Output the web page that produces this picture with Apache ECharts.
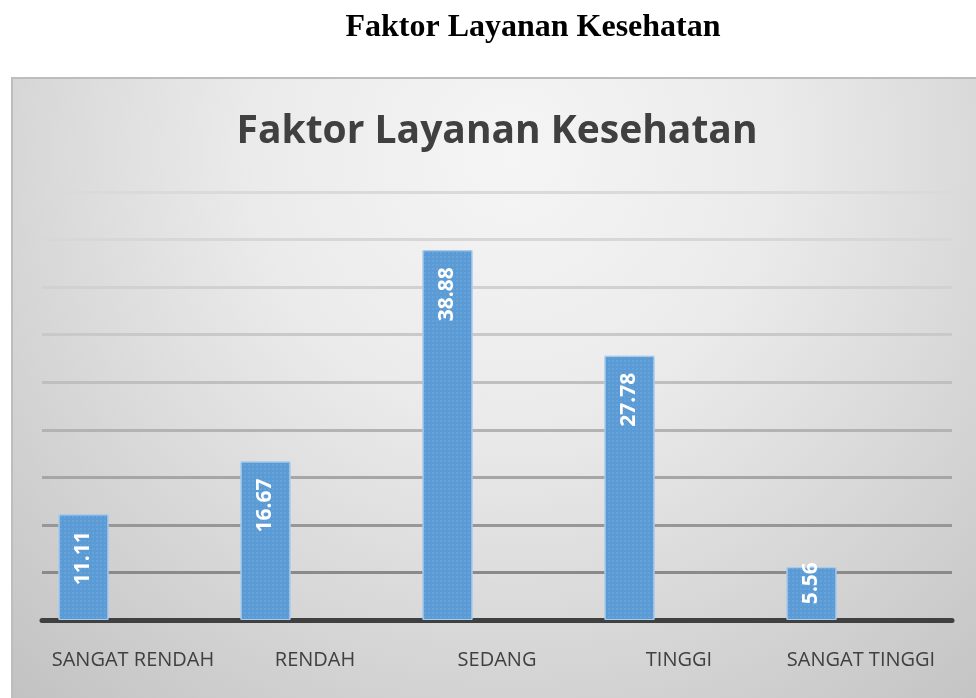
<!DOCTYPE html>
<html>
<head>
<meta charset="utf-8">
<script src="https://cdn.jsdelivr.net/npm/echarts@6/dist/echarts.min.js"></script>
<style>
html,body{margin:0;padding:0;background:#fff;}
#c{width:976px;height:698px;}
</style>
</head>
<body>
<div id="c"></div>
<script>
var categories = ['SANGAT RENDAH', 'RENDAH', 'SEDANG', 'TINGGI', 'SANGAT TINGGI'];
var values = [11.11, 16.67, 38.88, 27.78, 5.56];
var pageTitle = 'Faktor Layanan Kesehatan';
var chartTitle = 'Faktor Layanan Kesehatan';
var yMin = 0, yMax = 45, yStep = 5;

var chart = echarts.init(document.getElementById('c'), null, {renderer: 'canvas'});

var gridColors = ['#404040', '#8a8a8a', '#979797', '#a6a6a6', '#b3b3b3', '#bfbfbf', '#c9c9c9', '#d1d1d1', '#d7d7d7', '#dadada'];

var barData = values.map(function (v) {
  return {
    value: v,
    label: { distance: v < 8 ? -5 : 17 }
  };
});

var option = {
  animation: false,
  graphic: [
    {
      type: 'rect', z: -10, silent: true,
      shape: { x: 12, y: 78, width: 1000, height: 640 },
      style: {
        fill: {
          type: 'radial', x: 0.5, y: 0.12, r: 1.15,
          colorStops: [
            { offset: 0, color: '#f5f5f5' },
            { offset: 0.35, color: '#ebebeb' },
            { offset: 1, color: '#c2c2c2' }
          ]
        },
        stroke: '#bdbdbd', lineWidth: 2
      }
    },
    {
      type: 'text', z: 10, silent: true,
      x: 533, y: 28,
      style: {
        text: pageTitle, textAlign: 'center', textVerticalAlign: 'middle',
        font: 'bold 32px "Liberation Serif", "Times New Roman", serif', fill: '#000'
      }
    },
    {
      type: 'text', z: 10, silent: true,
      x: 497, y: 132,
      style: {
        text: chartTitle, textAlign: 'center', textVerticalAlign: 'middle',
        font: 'bold 39px "Open Sans", sans-serif', fill: '#404040'
      }
    }
  ],
  grid: { left: 42, right: 24, top: 192, bottom: 78, containLabel: false },
  xAxis: {
    type: 'category',
    data: categories,
    axisLine: { show: true, lineStyle: { color: '#404040', width: 5 } },
    axisTick: { show: false },
    axisLabel: {
      interval: 0,
      color: '#404040', fontFamily: '"Open Sans", sans-serif', fontSize: 20, margin: 30
    }
  },
  yAxis: {
    type: 'value', min: yMin, max: yMax, interval: yStep,
    axisLine: { show: false }, axisTick: { show: false },
    axisLabel: { show: false },
    splitLine: { show: true, lineStyle: { color: gridColors, width: 3 } }
  },
  series: [
    {
      type: 'bar', name: 'Nilai', data: barData,
      barWidth: 50, barGap: '98%',
      itemStyle: {
        color: '#5b9bd5', borderColor: '#a9cbec', borderWidth: 1,
        decal: {
          symbol: 'rect', symbolSize: 0.5,
          dashArrayX: [2, 2], dashArrayY: [2, 2],
          color: 'rgba(255,255,255,0.28)', rotation: 0
        }
      },
      label: {
        show: true, position: 'insideTop', rotate: 90,
        align: 'right', verticalAlign: 'middle',
        color: '#ffffff', fontWeight: 'bold', fontSize: 21,
        fontFamily: '"Open Sans", sans-serif',
        formatter: function (p) { return p.value.toFixed(2); }
      },
      z: 3
    },
    {
      type: 'bar', name: 'kosong', data: values.map(function () { return null; }),
      barWidth: 50
    }
  ]
};
chart.setOption(option);
</script>
</body>
</html>
